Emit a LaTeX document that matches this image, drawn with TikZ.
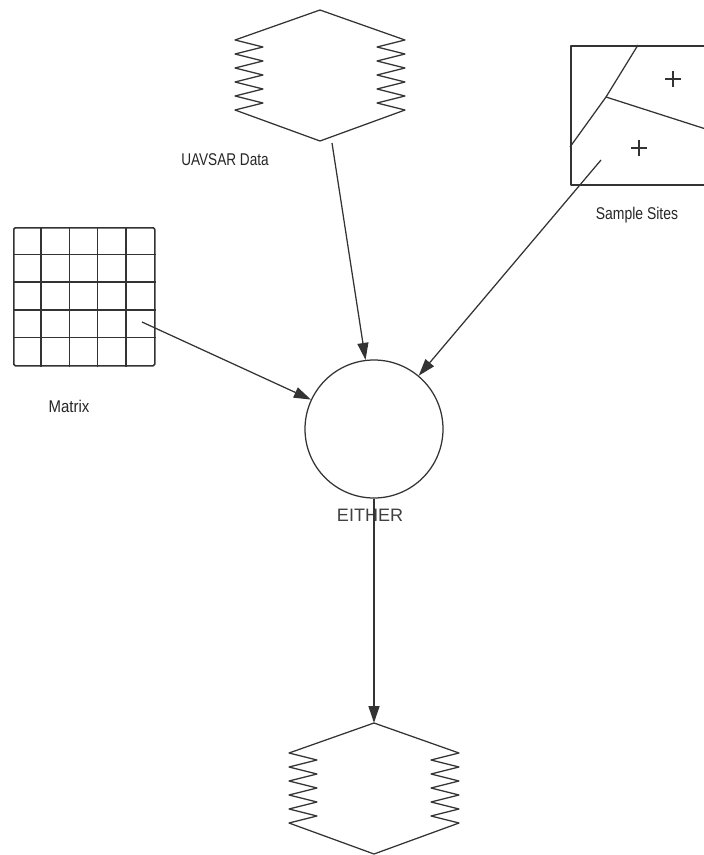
\documentclass[tikz,border=0pt]{standalone}
\usepackage{fontspec}
\setmainfont{Liberation Sans}
\usetikzlibrary{arrows.meta}
\tikzset{
  ln/.style={draw=black!80, line width=1.25pt, line join=round},
  arr/.style={ln, -{Triangle[length=17pt,width=11pt]}},
  lbl/.style={text=black!85, inner sep=0pt, font=\fontsize{17}{17}\selectfont},
  pics/zighex/.style={code={
    \coordinate (-top) at (0,0);
    \coordinate (-bot) at (0,131);
    \draw[ln] (0,0) -- (-85,30)
      \foreach \k in {0,...,4} { -- (-57,37+14*\k) -- (-85,44+14*\k) }
      -- (0,131) -- (85,100)
      \foreach \k in {0,...,4} { -- (57,93-14*\k) -- (85,86-14*\k) }
      -- cycle;
  }}
}
\begin{document}
\begin{tikzpicture}[x=1pt,y=-1pt]
\useasboundingbox (0,0) rectangle (704,855);
\fill[white] (0,0) rectangle (704,855);

% UAVSAR data
\pic (uav) at (320,10) {zighex};
\node[lbl] (uavlbl) at (225,160) {\scalebox{0.8}[1]{UAVSAR Data}};
\coordinate (uavout) at (332,143);

% Sample sites
\node[ln, line width=1.6pt, minimum width=142, minimum height=139, inner sep=0pt, anchor=north west] (sites) at (570,45) {};
\draw[ln] (638,45) -- (606,97) -- (570,147);
\draw[ln] (606,97) -- (712,131);
\draw[ln] (665,79) -- (681,79) (673,71) -- (673,87);
\draw[ln] (631,148) -- (647,148) (639,140) -- (639,156);
\node[lbl] (siteslbl) at (637,215) {\scalebox{0.82}[1]{Sample Sites}};
\coordinate (sitesout) at (601,160);

% Matrix
\node[ln, line width=1.5pt, minimum width=141, minimum height=138, inner sep=0pt, anchor=north west, rounded corners=1.5pt] (mat) at (13,227) {};
\foreach \k in {1,...,4} {
  \draw[ln, line width=1.5pt] ([xshift=28.2*\k]mat.north west) -- ([xshift=28.2*\k]mat.south west);
  \draw[ln, line width=1.5pt] ([yshift=-27.6*\k]mat.north west) -- ([yshift=-27.6*\k]mat.north east);
}
\node[lbl] (matlbl) at (69,406) {\scalebox{0.88}[1]{Matrix}};
\coordinate (matout) at (142,322);

% Either
\node[ln, circle, minimum size=138, inner sep=0pt] (either) at (374,429) {};
\node[text=black!75, inner sep=0pt, font=\fontsize{18}{18}\selectfont] (eitherlbl) at (370,515) {EITHER};

% Output
\pic (out) at (374,723) {zighex};

% Connectors
\draw[arr] (uavout) -- (either.97);
\draw[arr] (sitesout) -- (either.50);
\draw[arr] (matout) -- (either.155);
\draw[arr] (either.south) -- (out-top);
\end{tikzpicture}
\end{document}
